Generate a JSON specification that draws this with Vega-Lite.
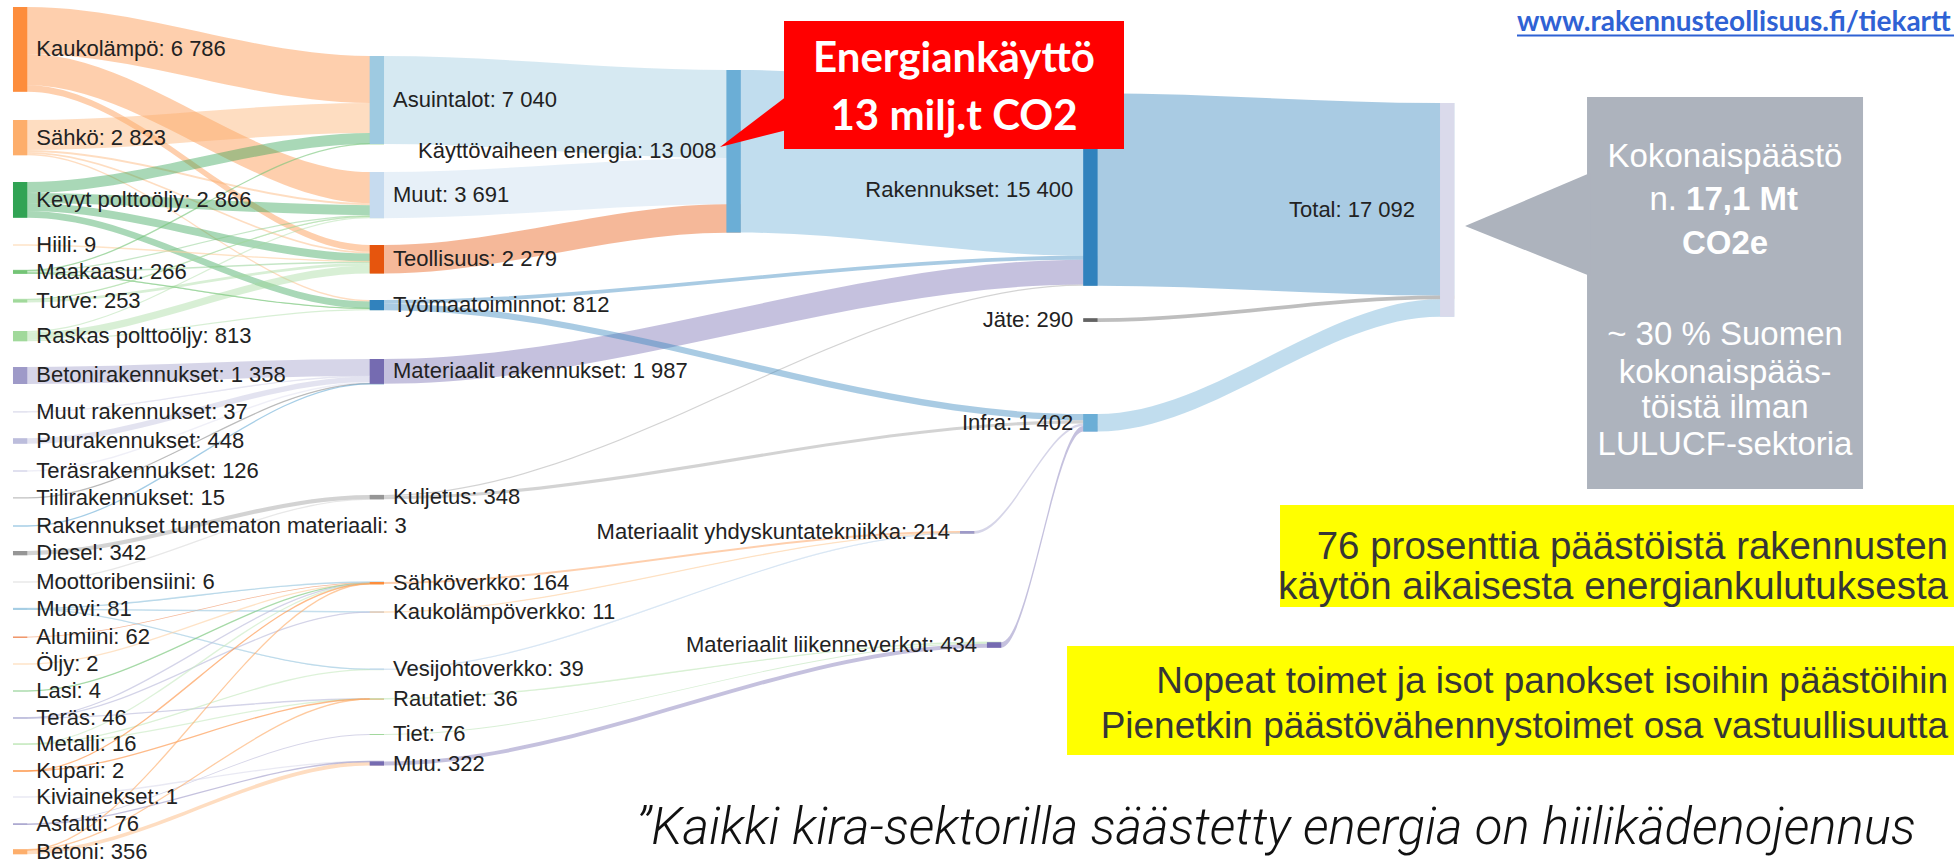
{
  "$schema": "https://vega.github.io/schema/vega-lite/v6.json",
  "width": 1954,
  "height": 863,
  "autosize": "none",
  "padding": 0,
  "background": "#ffffff",
  "config": {"view": {"stroke": null}},
  "datasets": {
    "nodes": [
      {"name": "Kaukolämpö", "value": 6786, "stage": 0, "stage_end": 0.04, "top": 560, "bottom": 7346, "label": "Kaukolämpö: 6 786"},
      {"name": "Sähkö", "value": 2823, "stage": 0, "stage_end": 0.04, "top": 9600, "bottom": 12423, "label": "Sähkö: 2 823"},
      {"name": "Kevyt polttoöljy", "value": 2866, "stage": 0, "stage_end": 0.04, "top": 14560, "bottom": 17426, "label": "Kevyt polttoöljy: 2 866"},
      {"name": "Hiili", "value": 9, "stage": 0, "stage_end": 0.04, "top": 19600, "bottom": 19609, "label": "Hiili: 9"},
      {"name": "Maakaasu", "value": 266, "stage": 0, "stage_end": 0.04, "top": 21625, "bottom": 21891, "label": "Maakaasu: 266"},
      {"name": "Turve", "value": 253, "stage": 0, "stage_end": 0.04, "top": 23950, "bottom": 24203, "label": "Turve: 253"},
      {"name": "Raskas polttoöljy", "value": 813, "stage": 0, "stage_end": 0.04, "top": 26480, "bottom": 27293, "label": "Raskas polttoöljy: 813"},
      {"name": "Betonirakennukset", "value": 1358, "stage": 0, "stage_end": 0.04, "top": 29360, "bottom": 30718, "label": "Betonirakennukset: 1 358"},
      {"name": "Muut rakennukset", "value": 37, "stage": 0, "stage_end": 0.04, "top": 32940, "bottom": 32977, "label": "Muut rakennukset: 37"},
      {"name": "Puurakennukset", "value": 448, "stage": 0, "stage_end": 0.04, "top": 35056, "bottom": 35504, "label": "Puurakennukset: 448"},
      {"name": "Teräsrakennukset", "value": 126, "stage": 0, "stage_end": 0.04, "top": 37616, "bottom": 37742, "label": "Teräsrakennukset: 126"},
      {"name": "Tiilirakennukset", "value": 15, "stage": 0, "stage_end": 0.04, "top": 39832, "bottom": 39847, "label": "Tiilirakennukset: 15"},
      {"name": "Rakennukset tuntematon materiaali", "value": 3, "stage": 0, "stage_end": 0.04, "top": 42080, "bottom": 42083, "label": "Rakennukset tuntematon materiaali: 3"},
      {"name": "Diesel", "value": 342, "stage": 0, "stage_end": 0.04, "top": 44070, "bottom": 44412, "label": "Diesel: 342"},
      {"name": "Moottoribensiini", "value": 6, "stage": 0, "stage_end": 0.04, "top": 46560, "bottom": 46566, "label": "Moottoribensiini: 6"},
      {"name": "Muovi", "value": 81, "stage": 0, "stage_end": 0.04, "top": 48680, "bottom": 48761, "label": "Muovi: 81"},
      {"name": "Alumiini", "value": 62, "stage": 0, "stage_end": 0.04, "top": 50930, "bottom": 50992, "label": "Alumiini: 62"},
      {"name": "Öljy", "value": 2, "stage": 0, "stage_end": 0.04, "top": 53120, "bottom": 53122, "label": "Öljy: 2"},
      {"name": "Lasi", "value": 4, "stage": 0, "stage_end": 0.04, "top": 55280, "bottom": 55284, "label": "Lasi: 4"},
      {"name": "Teräs", "value": 46, "stage": 0, "stage_end": 0.04, "top": 57420, "bottom": 57466, "label": "Teräs: 46"},
      {"name": "Metalli", "value": 16, "stage": 0, "stage_end": 0.04, "top": 59520, "bottom": 59536, "label": "Metalli: 16"},
      {"name": "Kupari", "value": 2, "stage": 0, "stage_end": 0.04, "top": 61680, "bottom": 61682, "label": "Kupari: 2"},
      {"name": "Kiviainekset", "value": 1, "stage": 0, "stage_end": 0.04, "top": 63760, "bottom": 63761, "label": "Kiviainekset: 1"},
      {"name": "Asfaltti", "value": 76, "stage": 0, "stage_end": 0.04, "top": 65880, "bottom": 65956, "label": "Asfaltti: 76"},
      {"name": "Betoni", "value": 356, "stage": 0, "stage_end": 0.04, "top": 67980, "bottom": 68336, "label": "Betoni: 356"},
      {"name": "Asuintalot", "value": 7040, "stage": 1, "stage_end": 1.04, "top": 4480, "bottom": 11520, "label": "Asuintalot: 7 040"},
      {"name": "Muut", "value": 3691, "stage": 1, "stage_end": 1.04, "top": 13760, "bottom": 17451, "label": "Muut: 3 691"},
      {"name": "Teollisuus", "value": 2279, "stage": 1, "stage_end": 1.04, "top": 19600, "bottom": 21879, "label": "Teollisuus: 2 279"},
      {"name": "Työmaatoiminnot", "value": 812, "stage": 1, "stage_end": 1.04, "top": 24000, "bottom": 24812, "label": "Työmaatoiminnot: 812"},
      {"name": "Materiaalit rakennukset", "value": 1987, "stage": 1, "stage_end": 1.04, "top": 28720, "bottom": 30707, "label": "Materiaalit rakennukset: 1 987"},
      {"name": "Kuljetus", "value": 348, "stage": 1, "stage_end": 1.04, "top": 39590, "bottom": 39938, "label": "Kuljetus: 348"},
      {"name": "Sähköverkko", "value": 164, "stage": 1, "stage_end": 1.04, "top": 46560, "bottom": 46724, "label": "Sähköverkko: 164"},
      {"name": "Kaukolämpöverkko", "value": 11, "stage": 1, "stage_end": 1.04, "top": 48960, "bottom": 48971, "label": "Kaukolämpöverkko: 11"},
      {"name": "Vesijohtoverkko", "value": 39, "stage": 1, "stage_end": 1.04, "top": 53540, "bottom": 53579, "label": "Vesijohtoverkko: 39"},
      {"name": "Rautatiet", "value": 36, "stage": 1, "stage_end": 1.04, "top": 55900, "bottom": 55936, "label": "Rautatiet: 36"},
      {"name": "Tiet", "value": 76, "stage": 1, "stage_end": 1.04, "top": 58720, "bottom": 58796, "label": "Tiet: 76"},
      {"name": "Muu", "value": 322, "stage": 1, "stage_end": 1.04, "top": 60920, "bottom": 61242, "label": "Muu: 322"},
      {"name": "Käyttövaiheen energia", "value": 13008, "stage": 2, "stage_end": 2.04, "top": 5600, "bottom": 18608, "label": "Käyttövaiheen energia: 13 008"},
      {"name": "Materiaalit yhdyskuntatekniikka", "value": 214, "stage": 2.6545, "stage_end": 2.6945, "top": 42480, "bottom": 42694, "label": "Materiaalit yhdyskuntatekniikka: 214"},
      {"name": "Materiaalit liikenneverkot", "value": 434, "stage": 2.73, "stage_end": 2.77, "top": 51380, "bottom": 51814, "label": "Materiaalit liikenneverkot: 434"},
      {"name": "Rakennukset", "value": 15400, "stage": 3, "stage_end": 3.04, "top": 7460, "bottom": 22860, "label": "Rakennukset: 15 400"},
      {"name": "Jäte", "value": 290, "stage": 3, "stage_end": 3.04, "top": 25460, "bottom": 25750, "label": "Jäte: 290"},
      {"name": "Infra", "value": 1402, "stage": 3, "stage_end": 3.04, "top": 33120, "bottom": 34522, "label": "Infra: 1 402"},
      {"name": "Total", "value": 17092, "stage": 4, "stage_end": 4.04, "top": 8240, "bottom": 25332, "label": "Total: 17 092"}
    ],
    "links": [
      {"source": "Kaukolämpö", "target": "Asuintalot", "value": 3760, "at": [0, 0.04, 1, 1.04], "upper": [560, 560, 4480, 4480], "lower": [4320, 4320, 8240, 8240]},
      {"source": "Kaukolämpö", "target": "Muut", "value": 2490, "at": [0, 0.04, 1, 1.04], "upper": [4320, 4320, 13760, 13760], "lower": [6810, 6810, 16250, 16250]},
      {"source": "Kaukolämpö", "target": "Teollisuus", "value": 536, "at": [0, 0.04, 1, 1.04], "upper": [6810, 6810, 19600, 19600], "lower": [7346, 7346, 20136, 20136]},
      {"source": "Sähkö", "target": "Asuintalot", "value": 2400, "at": [0, 0.04, 1, 1.04], "upper": [9600, 9600, 8240, 8240], "lower": [12000, 12000, 10640, 10640]},
      {"source": "Sähkö", "target": "Muut", "value": 160, "at": [0, 0.04, 1, 1.04], "upper": [12000, 12000, 16250, 16250], "lower": [12160, 12160, 16410, 16410]},
      {"source": "Sähkö", "target": "Teollisuus", "value": 143, "at": [0, 0.04, 1, 1.04], "upper": [12160, 12160, 20136, 20136], "lower": [12303, 12303, 20279, 20279]},
      {"source": "Sähkö", "target": "Työmaatoiminnot", "value": 120, "at": [0, 0.04, 1, 1.04], "upper": [12303, 12303, 24000, 24000], "lower": [12423, 12423, 24120, 24120]},
      {"source": "Kevyt polttoöljy", "target": "Asuintalot", "value": 870, "at": [0, 0.04, 1, 1.04], "upper": [14560, 14560, 10640, 10640], "lower": [15430, 15430, 11510, 11510]},
      {"source": "Kevyt polttoöljy", "target": "Muut", "value": 800, "at": [0, 0.04, 1, 1.04], "upper": [15430, 15430, 16410, 16410], "lower": [16230, 16230, 17210, 17210]},
      {"source": "Kevyt polttoöljy", "target": "Teollisuus", "value": 640, "at": [0, 0.04, 1, 1.04], "upper": [16230, 16230, 20279, 20279], "lower": [16870, 16870, 20919, 20919]},
      {"source": "Kevyt polttoöljy", "target": "Työmaatoiminnot", "value": 556, "at": [0, 0.04, 1, 1.04], "upper": [16870, 16870, 24120, 24120], "lower": [17426, 17426, 24676, 24676]},
      {"source": "Hiili", "target": "Teollisuus", "value": 9, "at": [0, 0.04, 1, 1.04], "upper": [19600, 19600, 20919, 20919], "lower": [19609, 19609, 20928, 20928]},
      {"source": "Maakaasu", "target": "Asuintalot", "value": 10, "at": [0, 0.04, 1, 1.04], "upper": [21625, 21625, 11510, 11510], "lower": [21635, 21635, 11520, 11520]},
      {"source": "Maakaasu", "target": "Muut", "value": 100, "at": [0, 0.04, 1, 1.04], "upper": [21635, 21635, 17210, 17210], "lower": [21735, 21735, 17310, 17310]},
      {"source": "Maakaasu", "target": "Teollisuus", "value": 120, "at": [0, 0.04, 1, 1.04], "upper": [21735, 21735, 20928, 20928], "lower": [21855, 21855, 21048, 21048]},
      {"source": "Maakaasu", "target": "Työmaatoiminnot", "value": 36, "at": [0, 0.04, 1, 1.04], "upper": [21855, 21855, 24676, 24676], "lower": [21891, 21891, 24712, 24712]},
      {"source": "Turve", "target": "Muut", "value": 40, "at": [0, 0.04, 1, 1.04], "upper": [23950, 23950, 17310, 17310], "lower": [23990, 23990, 17350, 17350]},
      {"source": "Turve", "target": "Teollisuus", "value": 213, "at": [0, 0.04, 1, 1.04], "upper": [23990, 23990, 21048, 21048], "lower": [24203, 24203, 21261, 21261]},
      {"source": "Raskas polttoöljy", "target": "Muut", "value": 101, "at": [0, 0.04, 1, 1.04], "upper": [26480, 26480, 17350, 17350], "lower": [26581, 26581, 17451, 17451]},
      {"source": "Raskas polttoöljy", "target": "Teollisuus", "value": 612, "at": [0, 0.04, 1, 1.04], "upper": [26581, 26581, 21261, 21261], "lower": [27193, 27193, 21873, 21873]},
      {"source": "Raskas polttoöljy", "target": "Työmaatoiminnot", "value": 100, "at": [0, 0.04, 1, 1.04], "upper": [27193, 27193, 24712, 24712], "lower": [27293, 27293, 24812, 24812]},
      {"source": "Betonirakennukset", "target": "Materiaalit rakennukset", "value": 1358, "at": [0, 0.04, 1, 1.04], "upper": [29360, 29360, 28720, 28720], "lower": [30718, 30718, 30078, 30078]},
      {"source": "Muut rakennukset", "target": "Materiaalit rakennukset", "value": 37, "at": [0, 0.04, 1, 1.04], "upper": [32940, 32940, 30078, 30078], "lower": [32977, 32977, 30115, 30115]},
      {"source": "Puurakennukset", "target": "Materiaalit rakennukset", "value": 448, "at": [0, 0.04, 1, 1.04], "upper": [35056, 35056, 30115, 30115], "lower": [35504, 35504, 30563, 30563]},
      {"source": "Teräsrakennukset", "target": "Materiaalit rakennukset", "value": 126, "at": [0, 0.04, 1, 1.04], "upper": [37616, 37616, 30563, 30563], "lower": [37742, 37742, 30689, 30689]},
      {"source": "Tiilirakennukset", "target": "Materiaalit rakennukset", "value": 15, "at": [0, 0.04, 1, 1.04], "upper": [39832, 39832, 30689, 30689], "lower": [39847, 39847, 30704, 30704]},
      {"source": "Rakennukset tuntematon materiaali", "target": "Materiaalit rakennukset", "value": 3, "at": [0, 0.04, 1, 1.04], "upper": [42080, 42080, 30704, 30704], "lower": [42083, 42083, 30707, 30707]},
      {"source": "Diesel", "target": "Kuljetus", "value": 342, "at": [0, 0.04, 1, 1.04], "upper": [44070, 44070, 39590, 39590], "lower": [44412, 44412, 39932, 39932]},
      {"source": "Moottoribensiini", "target": "Kuljetus", "value": 6, "at": [0, 0.04, 1, 1.04], "upper": [46560, 46560, 39932, 39932], "lower": [46566, 46566, 39938, 39938]},
      {"source": "Muovi", "target": "Sähköverkko", "value": 46, "at": [0, 0.04, 1, 1.04], "upper": [48680, 48680, 46560, 46560], "lower": [48726, 48726, 46606, 46606]},
      {"source": "Muovi", "target": "Kaukolämpöverkko", "value": 5, "at": [0, 0.04, 1, 1.04], "upper": [48726, 48726, 48960, 48960], "lower": [48731, 48731, 48965, 48965]},
      {"source": "Muovi", "target": "Vesijohtoverkko", "value": 30, "at": [0, 0.04, 1, 1.04], "upper": [48731, 48731, 53540, 53540], "lower": [48761, 48761, 53570, 53570]},
      {"source": "Alumiini", "target": "Sähköverkko", "value": 62, "at": [0, 0.04, 1, 1.04], "upper": [50930, 50930, 46606, 46606], "lower": [50992, 50992, 46668, 46668]},
      {"source": "Öljy", "target": "Sähköverkko", "value": 2, "at": [0, 0.04, 1, 1.04], "upper": [53120, 53120, 46668, 46668], "lower": [53122, 53122, 46670, 46670]},
      {"source": "Lasi", "target": "Sähköverkko", "value": 4, "at": [0, 0.04, 1, 1.04], "upper": [55280, 55280, 46670, 46670], "lower": [55284, 55284, 46674, 46674]},
      {"source": "Teräs", "target": "Sähköverkko", "value": 21, "at": [0, 0.04, 1, 1.04], "upper": [57420, 57420, 46674, 46674], "lower": [57441, 57441, 46695, 46695]},
      {"source": "Teräs", "target": "Kaukolämpöverkko", "value": 6, "at": [0, 0.04, 1, 1.04], "upper": [57441, 57441, 48965, 48965], "lower": [57447, 57447, 48971, 48971]},
      {"source": "Teräs", "target": "Rautatiet", "value": 19, "at": [0, 0.04, 1, 1.04], "upper": [57447, 57447, 55900, 55900], "lower": [57466, 57466, 55919, 55919]},
      {"source": "Metalli", "target": "Sähköverkko", "value": 5, "at": [0, 0.04, 1, 1.04], "upper": [59520, 59520, 46695, 46695], "lower": [59525, 59525, 46700, 46700]},
      {"source": "Metalli", "target": "Vesijohtoverkko", "value": 9, "at": [0, 0.04, 1, 1.04], "upper": [59525, 59525, 53570, 53570], "lower": [59534, 59534, 53579, 53579]},
      {"source": "Metalli", "target": "Rautatiet", "value": 2, "at": [0, 0.04, 1, 1.04], "upper": [59534, 59534, 55919, 55919], "lower": [59536, 59536, 55921, 55921]},
      {"source": "Kupari", "target": "Sähköverkko", "value": 1, "at": [0, 0.04, 1, 1.04], "upper": [61680, 61680, 46700, 46700], "lower": [61681, 61681, 46701, 46701]},
      {"source": "Kupari", "target": "Rautatiet", "value": 1, "at": [0, 0.04, 1, 1.04], "upper": [61681, 61681, 55921, 55921], "lower": [61682, 61682, 55922, 55922]},
      {"source": "Kiviainekset", "target": "Muu", "value": 1, "at": [0, 0.04, 1, 1.04], "upper": [63760, 63760, 60920, 60920], "lower": [63761, 63761, 60921, 60921]},
      {"source": "Asfaltti", "target": "Tiet", "value": 74, "at": [0, 0.04, 1, 1.04], "upper": [65880, 65880, 58720, 58720], "lower": [65954, 65954, 58794, 58794]},
      {"source": "Asfaltti", "target": "Muu", "value": 2, "at": [0, 0.04, 1, 1.04], "upper": [65954, 65954, 60921, 60921], "lower": [65956, 65956, 60923, 60923]},
      {"source": "Betoni", "target": "Sähköverkko", "value": 23, "at": [0, 0.04, 1, 1.04], "upper": [67980, 67980, 46701, 46701], "lower": [68003, 68003, 46724, 46724]},
      {"source": "Betoni", "target": "Rautatiet", "value": 14, "at": [0, 0.04, 1, 1.04], "upper": [68003, 68003, 55922, 55922], "lower": [68017, 68017, 55936, 55936]},
      {"source": "Betoni", "target": "Muu", "value": 319, "at": [0, 0.04, 1, 1.04], "upper": [68017, 68017, 60923, 60923], "lower": [68336, 68336, 61242, 61242]},
      {"source": "Asuintalot", "target": "Käyttövaiheen energia", "value": 7040, "at": [1, 1.04, 2, 2.04], "upper": [4480, 4480, 5600, 5600], "lower": [11520, 11520, 12640, 12640]},
      {"source": "Muut", "target": "Käyttövaiheen energia", "value": 3691, "at": [1, 1.04, 2, 2.04], "upper": [13760, 13760, 12640, 12640], "lower": [17451, 17451, 16331, 16331]},
      {"source": "Teollisuus", "target": "Käyttövaiheen energia", "value": 2279, "at": [1, 1.04, 2, 2.04], "upper": [19600, 19600, 16331, 16331], "lower": [21879, 21879, 18610, 18610]},
      {"source": "Sähköverkko", "target": "Materiaalit yhdyskuntatekniikka", "value": 164, "at": [1, 1.04, 2.6545, 2.6945], "upper": [46560, 46560, 42480, 42480], "lower": [46724, 46724, 42644, 42644]},
      {"source": "Kaukolämpöverkko", "target": "Materiaalit yhdyskuntatekniikka", "value": 11, "at": [1, 1.04, 2.6545, 2.6945], "upper": [48960, 48960, 42644, 42644], "lower": [48971, 48971, 42655, 42655]},
      {"source": "Vesijohtoverkko", "target": "Materiaalit yhdyskuntatekniikka", "value": 39, "at": [1, 1.04, 2.6545, 2.6945], "upper": [53540, 53540, 42655, 42655], "lower": [53579, 53579, 42694, 42694]},
      {"source": "Rautatiet", "target": "Materiaalit liikenneverkot", "value": 36, "at": [1, 1.04, 2.73, 2.77], "upper": [55900, 55900, 51380, 51380], "lower": [55936, 55936, 51416, 51416]},
      {"source": "Tiet", "target": "Materiaalit liikenneverkot", "value": 76, "at": [1, 1.04, 2.73, 2.77], "upper": [58720, 58720, 51416, 51416], "lower": [58796, 58796, 51492, 51492]},
      {"source": "Muu", "target": "Materiaalit liikenneverkot", "value": 322, "at": [1, 1.04, 2.73, 2.77], "upper": [60920, 60920, 51492, 51492], "lower": [61242, 61242, 51814, 51814]},
      {"source": "Käyttövaiheen energia", "target": "Rakennukset", "value": 13008, "at": [2, 2.04, 3, 3.04], "upper": [5600, 5600, 7460, 7460], "lower": [18608, 18608, 20468, 20468]},
      {"source": "Työmaatoiminnot", "target": "Rakennukset", "value": 305, "at": [1, 1.04, 3, 3.04], "upper": [24000, 24000, 20468, 20468], "lower": [24305, 24305, 20773, 20773]},
      {"source": "Materiaalit rakennukset", "target": "Rakennukset", "value": 1987, "at": [1, 1.04, 3, 3.04], "upper": [28720, 28720, 20773, 20773], "lower": [30707, 30707, 22760, 22760]},
      {"source": "Kuljetus", "target": "Rakennukset", "value": 100, "at": [1, 1.04, 3, 3.04], "upper": [39590, 39590, 22760, 22760], "lower": [39690, 39690, 22860, 22860]},
      {"source": "Työmaatoiminnot", "target": "Infra", "value": 507, "at": [1, 1.04, 3, 3.04], "upper": [24305, 24305, 33120, 33120], "lower": [24812, 24812, 33627, 33627]},
      {"source": "Kuljetus", "target": "Infra", "value": 248, "at": [1, 1.04, 3, 3.04], "upper": [39690, 39690, 33627, 33627], "lower": [39938, 39938, 33875, 33875]},
      {"source": "Materiaalit yhdyskuntatekniikka", "target": "Infra", "value": 214, "at": [2.6545, 2.6945, 3, 3.04], "upper": [42480, 42480, 33875, 33875], "lower": [42694, 42694, 34089, 34089]},
      {"source": "Materiaalit liikenneverkot", "target": "Infra", "value": 434, "at": [2.73, 2.77, 3, 3.04], "upper": [51380, 51380, 34089, 34089], "lower": [51814, 51814, 34523, 34523]},
      {"source": "Rakennukset", "target": "Total", "value": 15400, "at": [3, 3.04, 4, 4.04], "upper": [7460, 7460, 8240, 8240], "lower": [22860, 22860, 23640, 23640]},
      {"source": "Jäte", "target": "Total", "value": 290, "at": [3, 3.04, 4, 4.04], "upper": [25460, 25460, 23640, 23640], "lower": [25750, 25750, 23930, 23930]},
      {"source": "Infra", "target": "Total", "value": 1402, "at": [3, 3.04, 4, 4.04], "upper": [33120, 33120, 23930, 23930], "lower": [34522, 34522, 25332, 25332]}
    ]
  },
  "layer": [
    {
      "data": {"name": "links"},
      "transform": [{"flatten": ["at", "upper", "lower"]}],
      "mark": {"type": "area", "orient": "vertical", "interpolate": "monotone", "opacity": 0.42},
      "encoding": {
        "x": {"field": "at", "type": "quantitative", "scale": {"domain": [-0.0364, 5.4407], "nice": false, "zero": false}, "axis": null},
        "y": {"field": "upper", "type": "quantitative", "stack": null, "scale": {"domain": [0, 69040], "reverse": true, "nice": false, "zero": false}, "axis": null},
        "y2": {"field": "lower"},
        "detail": [{"field": "source"}, {"field": "target"}],
        "color": {"field": "source", "type": "nominal", "legend": null,
          "scale": {"domain": ["Kaukolämpö","Sähkö","Kevyt polttoöljy","Hiili","Maakaasu","Turve","Raskas polttoöljy","Betonirakennukset","Muut rakennukset","Puurakennukset","Teräsrakennukset","Tiilirakennukset","Rakennukset tuntematon materiaali","Diesel","Moottoribensiini","Muovi","Alumiini","Öljy","Lasi","Teräs","Metalli","Kupari","Kiviainekset","Asfaltti","Betoni","Asuintalot","Muut","Teollisuus","Työmaatoiminnot","Materiaalit rakennukset","Kuljetus","Sähköverkko","Kaukolämpöverkko","Vesijohtoverkko","Rautatiet","Tiet","Muu","Käyttövaiheen energia","Materiaalit yhdyskuntatekniikka","Materiaalit liikenneverkot","Rakennukset","Jäte","Infra","Total"],
            "range": ["#fd8d3c","#fdae6b","#31a354","#fdd0a2","#74c476","#a1d99b","#a1d99b","#9e9ac8","#dadaeb","#bcbddc","#dadaeb","#969696","#6baed6","#969696","#d9d9d9","#9ecae1","#e6550d","#fdd0a2","#74c476","#bcbddc","#c7e9c0","#fd8d3c","#dadaeb","#9e9ac8","#fdae6b","#9ecae1","#c6dbef","#e6550d","#3182bd","#756bb1","#969696","#fd8d3c","#fdd0a2","#c6dbef","#c7e9c0","#a1d99b","#756bb1","#6baed6","#9e9ac8","#756bb1","#3182bd","#636363","#6baed6","#dadaeb"]}}
      }
    },
    {
      "data": {"name": "links"},
      "transform": [{"filter": {"field": "value", "lt": 60}}, {"flatten": ["at", "upper", "lower"]}],
      "mark": {"type": "line", "interpolate": "monotone", "strokeWidth": 1.3, "opacity": 0.6},
      "encoding": {
        "x": {"field": "at", "type": "quantitative", "scale": {"domain": [-0.0364, 5.4407], "nice": false, "zero": false}, "axis": null},
        "y": {"field": "upper", "type": "quantitative", "scale": {"domain": [0, 69040], "reverse": true, "nice": false, "zero": false}, "axis": null},
        "detail": [{"field": "source"}, {"field": "target"}],
        "color": {"field": "source", "type": "nominal", "legend": null}
      }
    },
    {
      "data": {"name": "nodes"},
      "mark": {"type": "rect"},
      "encoding": {
        "x": {"field": "stage", "type": "quantitative", "scale": {"domain": [-0.0364, 5.4407], "nice": false, "zero": false}, "axis": null},
        "x2": {"field": "stage_end"},
        "y": {"field": "top", "type": "quantitative", "scale": {"domain": [0, 69040], "reverse": true, "nice": false, "zero": false}, "axis": null},
        "y2": {"field": "bottom"},
        "color": {"field": "name", "type": "nominal", "legend": null}
      }
    },
    {
      "data": {"name": "nodes"},
      "transform": [{"filter": {"field": "stage", "lt": 1.5}}, {"fold": ["top", "bottom"], "as": ["edge", "level"]}],
      "mark": {"type": "text", "align": "left", "baseline": "middle", "dx": 9, "font": "Liberation Sans, Arial, sans-serif", "fontSize": 22, "color": "#222222"},
      "encoding": {
        "x": {"field": "stage_end", "type": "quantitative", "scale": {"domain": [-0.0364, 5.4407], "nice": false, "zero": false}, "axis": null},
        "y": {"field": "level", "aggregate": "mean", "type": "quantitative", "scale": {"domain": [0, 69040], "reverse": true, "nice": false, "zero": false}, "axis": null},
        "text": {"field": "label", "type": "nominal"}
      }
    },
    {
      "data": {"name": "nodes"},
      "transform": [{"filter": {"field": "stage", "gte": 1.5}}, {"filter": {"field": "stage", "lt": 3.5}}, {"fold": ["top", "bottom"], "as": ["edge", "level"]}],
      "mark": {"type": "text", "align": "right", "baseline": "middle", "dx": -10, "font": "Liberation Sans, Arial, sans-serif", "fontSize": 22, "color": "#222222"},
      "encoding": {
        "x": {"field": "stage", "type": "quantitative", "scale": {"domain": [-0.0364, 5.4407], "nice": false, "zero": false}, "axis": null},
        "y": {"field": "level", "aggregate": "mean", "type": "quantitative", "scale": {"domain": [0, 69040], "reverse": true, "nice": false, "zero": false}, "axis": null},
        "text": {"field": "label", "type": "nominal"}
      }
    },
    {
      "data": {"name": "nodes"},
      "transform": [{"filter": {"field": "stage", "gte": 3.5}}, {"fold": ["top", "bottom"], "as": ["edge", "level"]}],
      "mark": {"type": "text", "align": "right", "baseline": "middle", "dx": -25, "font": "Liberation Sans, Arial, sans-serif", "fontSize": 22, "color": "#222222"},
      "encoding": {
        "x": {"field": "stage", "type": "quantitative", "scale": {"domain": [-0.0364, 5.4407], "nice": false, "zero": false}, "axis": null},
        "y": {"field": "level", "aggregate": "mean", "type": "quantitative", "scale": {"domain": [0, 69040], "reverse": true, "nice": false, "zero": false}, "axis": null},
        "text": {"field": "label", "type": "nominal"}
      }
    },
    {
      "data": {"values": [{"note": "red box"}]},
      "mark": {"type": "rect", "color": "#ff0000"},
      "encoding": {
        "x": {"datum": 2.1612, "type": "quantitative", "scale": {"domain": [-0.0364, 5.4407], "nice": false, "zero": false}, "axis": null},
        "x2": {"datum": 3.1142},
        "y": {"datum": 1680, "type": "quantitative", "scale": {"domain": [0, 69040], "reverse": true, "nice": false, "zero": false}, "axis": null},
        "y2": {"datum": 11920}
      }
    },
    {
      "data": {"values": [{"note": "red pointer"}]},
      "mark": {"type": "point", "shape": "M0.03,-0.26L0.03,0.08L-0.64,0.25Z", "size": 40000, "filled": true, "color": "#ff0000", "opacity": 1, "strokeWidth": 0},
      "encoding": {
        "x": {"datum": 2.1612, "type": "quantitative", "scale": {"domain": [-0.0364, 5.4407], "nice": false, "zero": false}, "axis": null},
        "y": {"datum": 9760, "type": "quantitative", "scale": {"domain": [0, 69040], "reverse": true, "nice": false, "zero": false}, "axis": null}
      }
    },
    {
      "data": {"values": [{"line": "Energiankäyttö", "level": 5760}, {"line": "13 milj.t CO2", "level": 10400}]},
      "mark": {"type": "text", "align": "center", "baseline": "alphabetic", "font": "Lato, Open Sans, sans-serif", "fontWeight": "bold", "fontSize": 42, "color": "#ffffff"},
      "encoding": {
        "x": {"datum": 2.6377, "type": "quantitative", "scale": {"domain": [-0.0364, 5.4407], "nice": false, "zero": false}, "axis": null},
        "y": {"field": "level", "type": "quantitative", "scale": {"domain": [0, 69040], "reverse": true, "nice": false, "zero": false}, "axis": null},
        "text": {"field": "line", "type": "nominal"}
      }
    },
    {
      "data": {"values": [{"note": "grey box"}]},
      "mark": {"type": "rect", "color": "#adb3bd"},
      "encoding": {
        "x": {"datum": 4.4121, "type": "quantitative", "scale": {"domain": [-0.0364, 5.4407], "nice": false, "zero": false}, "axis": null},
        "x2": {"datum": 5.1857},
        "y": {"datum": 7760, "type": "quantitative", "scale": {"domain": [0, 69040], "reverse": true, "nice": false, "zero": false}, "axis": null},
        "y2": {"datum": 39120}
      }
    },
    {
      "data": {"values": [{"note": "grey pointer"}]},
      "mark": {"type": "point", "shape": "M0.03,-0.52L0.03,0.51L-1.22,0.01Z", "size": 40000, "filled": true, "color": "#adb3bd", "opacity": 1, "strokeWidth": 0},
      "encoding": {
        "x": {"datum": 4.4121, "type": "quantitative", "scale": {"domain": [-0.0364, 5.4407], "nice": false, "zero": false}, "axis": null},
        "y": {"datum": 18000, "type": "quantitative", "scale": {"domain": [0, 69040], "reverse": true, "nice": false, "zero": false}, "axis": null}
      }
    },
    {
      "data": {"values": [{"line": "Kokonaispäästö", "level": 13360}, {"line": "~ 30 % Suomen", "level": 27560}, {"line": "kokonaispääs-", "level": 30600}, {"line": "töistä ilman", "level": 33440}, {"line": "LULUCF-sektoria", "level": 36400}]},
      "mark": {"type": "text", "align": "center", "baseline": "alphabetic", "font": "Liberation Sans, Arial, sans-serif", "fontSize": 33, "color": "#ffffff"},
      "encoding": {
        "x": {"datum": 4.7989, "type": "quantitative", "scale": {"domain": [-0.0364, 5.4407], "nice": false, "zero": false}, "axis": null},
        "y": {"field": "level", "type": "quantitative", "scale": {"domain": [0, 69040], "reverse": true, "nice": false, "zero": false}, "axis": null},
        "text": {"field": "line", "type": "nominal"}
      }
    },
    {
      "data": {"values": [{"line": "n.", "level": 16800}]},
      "mark": {"type": "text", "align": "right", "baseline": "alphabetic", "font": "Liberation Sans, Arial, sans-serif", "fontSize": 33, "color": "#ffffff"},
      "encoding": {
        "x": {"datum": 4.6644, "type": "quantitative", "scale": {"domain": [-0.0364, 5.4407], "nice": false, "zero": false}, "axis": null},
        "y": {"field": "level", "type": "quantitative", "scale": {"domain": [0, 69040], "reverse": true, "nice": false, "zero": false}, "axis": null},
        "text": {"field": "line", "type": "nominal"}
      }
    },
    {
      "data": {"values": [{"line": "17,1 Mt", "level": 16800}]},
      "mark": {"type": "text", "align": "left", "baseline": "alphabetic", "font": "Liberation Sans, Arial, sans-serif", "fontWeight": "bold", "fontSize": 33, "color": "#ffffff"},
      "encoding": {
        "x": {"datum": 4.6896, "type": "quantitative", "scale": {"domain": [-0.0364, 5.4407], "nice": false, "zero": false}, "axis": null},
        "y": {"field": "level", "type": "quantitative", "scale": {"domain": [0, 69040], "reverse": true, "nice": false, "zero": false}, "axis": null},
        "text": {"field": "line", "type": "nominal"}
      }
    },
    {
      "data": {"values": [{"line": "CO2e", "level": 20320}]},
      "mark": {"type": "text", "align": "center", "baseline": "alphabetic", "font": "Liberation Sans, Arial, sans-serif", "fontWeight": "bold", "fontSize": 33, "color": "#ffffff"},
      "encoding": {
        "x": {"datum": 4.7989, "type": "quantitative", "scale": {"domain": [-0.0364, 5.4407], "nice": false, "zero": false}, "axis": null},
        "y": {"field": "level", "type": "quantitative", "scale": {"domain": [0, 69040], "reverse": true, "nice": false, "zero": false}, "axis": null},
        "text": {"field": "line", "type": "nominal"}
      }
    },
    {
      "data": {"values": [{"box": "A", "from": 3.5515, "lo": 40400, "hi": 48560}, {"box": "B", "from": 2.9545, "lo": 51680, "hi": 60400}]},
      "mark": {"type": "rect", "color": "#ffff00"},
      "encoding": {
        "x": {"field": "from", "type": "quantitative", "scale": {"domain": [-0.0364, 5.4407], "nice": false, "zero": false}, "axis": null},
        "x2": {"datum": 5.46},
        "y": {"field": "lo", "type": "quantitative", "scale": {"domain": [0, 69040], "reverse": true, "nice": false, "zero": false}, "axis": null},
        "y2": {"field": "hi"}
      }
    },
    {
      "data": {"values": [{"line": "76 prosenttia päästöistä rakennusten", "level": 44720}, {"line": "käytön aikaisesta energiankulutuksesta", "level": 47920}]},
      "mark": {"type": "text", "align": "right", "baseline": "alphabetic", "font": "Liberation Sans, Arial, sans-serif", "fontSize": 38.5, "color": "#363636"},
      "encoding": {
        "x": {"datum": 5.424, "type": "quantitative", "scale": {"domain": [-0.0364, 5.4407], "nice": false, "zero": false}, "axis": null},
        "y": {"field": "level", "type": "quantitative", "scale": {"domain": [0, 69040], "reverse": true, "nice": false, "zero": false}, "axis": null},
        "text": {"field": "line", "type": "nominal"}
      }
    },
    {
      "data": {"values": [{"line": "Nopeat toimet ja isot panokset isoihin päästöihin", "level": 55440}, {"line": "Pienetkin päästövähennystoimet osa vastuullisuutta", "level": 59040}]},
      "mark": {"type": "text", "align": "right", "baseline": "alphabetic", "font": "Liberation Sans, Arial, sans-serif", "fontSize": 37, "color": "#363636"},
      "encoding": {
        "x": {"datum": 5.424, "type": "quantitative", "scale": {"domain": [-0.0364, 5.4407], "nice": false, "zero": false}, "axis": null},
        "y": {"field": "level", "type": "quantitative", "scale": {"domain": [0, 69040], "reverse": true, "nice": false, "zero": false}, "axis": null},
        "text": {"field": "line", "type": "nominal"}
      }
    },
    {
      "data": {"values": [{"line": "”Kaikki kira-sektorilla säästetty energia on hiilikädenojennus", "level": 67520}]},
      "mark": {"type": "text", "align": "left", "baseline": "alphabetic", "font": "Roboto, sans-serif", "fontStyle": "italic", "fontWeight": 300, "fontSize": 51, "color": "#111111"},
      "encoding": {
        "x": {"datum": 1.7463, "type": "quantitative", "scale": {"domain": [-0.0364, 5.4407], "nice": false, "zero": false}, "axis": null},
        "y": {"field": "level", "type": "quantitative", "scale": {"domain": [0, 69040], "reverse": true, "nice": false, "zero": false}, "axis": null},
        "text": {"field": "line", "type": "nominal"}
      }
    },
    {
      "data": {"values": [{"line": "www.rakennusteollisuus.fi/tiekartt", "level": 2480}]},
      "mark": {"type": "text", "align": "left", "baseline": "alphabetic", "font": "Lato, sans-serif", "fontWeight": "bold", "fontSize": 28, "color": "#2f62d4"},
      "encoding": {
        "x": {"datum": 4.2158, "type": "quantitative", "scale": {"domain": [-0.0364, 5.4407], "nice": false, "zero": false}, "axis": null},
        "y": {"field": "level", "type": "quantitative", "scale": {"domain": [0, 69040], "reverse": true, "nice": false, "zero": false}, "axis": null},
        "text": {"field": "line", "type": "nominal"}
      }
    },
    {
      "data": {"values": [{"note": "underline"}]},
      "mark": {"type": "rule", "color": "#2f62d4", "strokeWidth": 2},
      "encoding": {
        "x": {"datum": 4.2158, "type": "quantitative", "scale": {"domain": [-0.0364, 5.4407], "nice": false, "zero": false}, "axis": null},
        "x2": {"datum": 5.46},
        "y": {"datum": 2840, "type": "quantitative", "scale": {"domain": [0, 69040], "reverse": true, "nice": false, "zero": false}, "axis": null}
      }
    }
  ]
}
